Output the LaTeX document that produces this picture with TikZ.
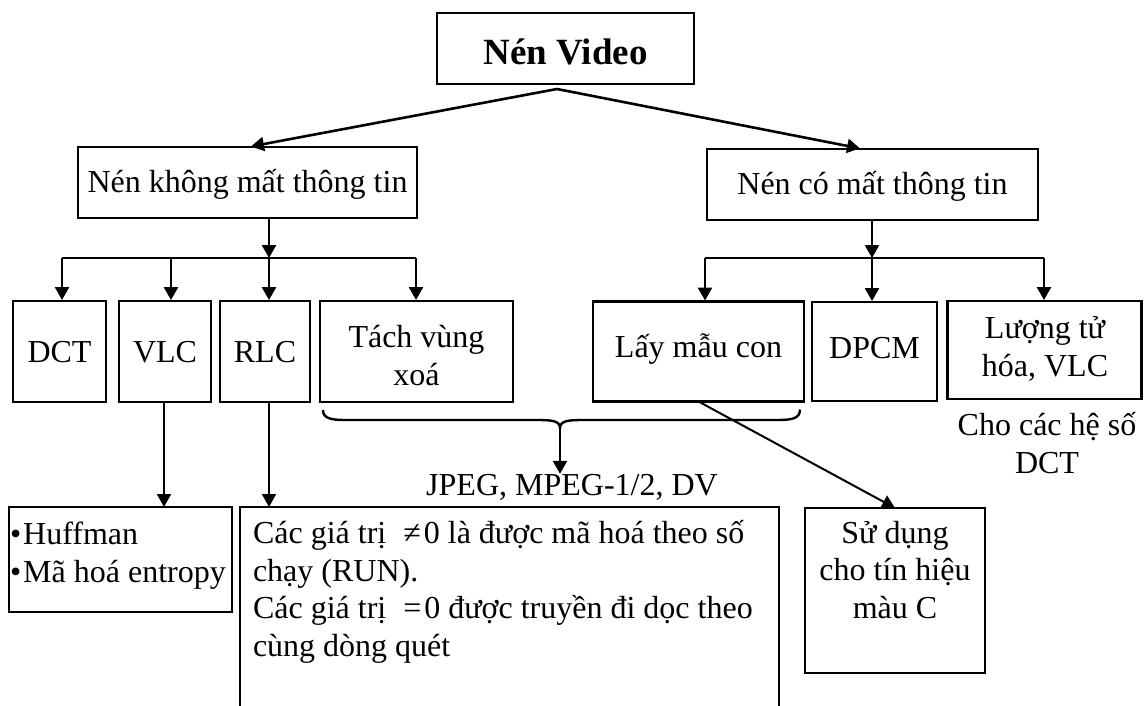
\documentclass[tikz,border=0pt]{standalone}
\usepackage{fontspec}
\setmainfont{Liberation Serif}
\usetikzlibrary{arrows.meta,calc}

\begin{document}
\begin{tikzpicture}[x=1pt,y=-1pt,
  every node/.style={inner sep=0pt, outer sep=0pt},
  txt/.style={font=\fontsize{32}{37.5}\selectfont},
  box/.style={draw, line width=2.6pt, txt},
  oneline/.style={text height=21pt, text depth=0pt},
  thinbox/.style={draw, line width=2pt},
  conn/.style={line width=2.6pt, -{Triangle[length=13pt,width=14pt]}},
  thinconn/.style={line width=2pt, -{Triangle[length=13pt,width=14pt]}},
  bus/.style={line width=2.6pt},
  bracepath/.style={line width=2.4pt},
]
\fill[white] (0,0) rectangle (1144,706);
\useasboundingbox (0,0) rectangle (1144,706);

% ---- root ----
\node[box, minimum width=257pt, minimum height=71pt,
      font=\fontsize{37}{40}\selectfont\bfseries, text height=33pt, text depth=0pt]
  (title) at (565.5,48.5) {Nén Video};

% ---- second level ----
\node[box, oneline, minimum width=339pt, minimum height=71pt]
  (lossless) at (247.5,182.5) {Nén không mất thông tin};
\node[box, oneline, minimum width=331pt, minimum height=71pt]
  (lossy) at (872.5,184.5) {Nén có mất thông tin};

% ---- lossless techniques ----
\node[box, oneline, minimum width=93pt, minimum height=101pt] (dct) at (59.5,351.5) {DCT};
\node[box, oneline, minimum width=92pt, minimum height=101pt] (vlc) at (165,351.5) {VLC};
\node[box, oneline, minimum width=90pt, minimum height=101pt] (rlc) at (265,351.5) {RLC};
\node[box, minimum width=193pt, minimum height=101pt] (tach) at (416.5,351.5) {};
\node[txt, align=center, anchor=base] (tachtext) at (416.5,385) {Tách vùng\\xoá};

% ---- lossy techniques ----
\node[box, text height=21pt, text depth=10pt, minimum width=211pt, minimum height=100pt]
  (laymau) at (698.5,351.5) {Lấy mẫu con};
\node[box, text height=21pt, text depth=8pt, minimum width=125pt, minimum height=99pt]
  (dpcm) at (874.5,351.5) {DPCM};
\node[box, minimum width=194pt, minimum height=98pt] (luong) at (1044.5,350) {};
\node[txt, align=center, anchor=base] (luongtext) at (1045,376) {Lượng tử\\hóa, VLC};
\node[txt, align=center, anchor=base] (cho) at (1047,473) {Cho các hệ số\\DCT};

% ---- bottom boxes ----
\node[thinbox, minimum width=223pt, minimum height=105pt] (huff) at (120.5,559.5) {};
\node[txt, align=left, anchor=base west] (hufftext) at (10,582)
  {•\hspace{2pt}Huffman\\•\hspace{2pt}Mã hoá entropy};

\node[minimum width=539pt, minimum height=199pt] (runbox) at (509.5,606.5) {};
\draw[line width=2pt] (runbox.south west) -- (runbox.north west)
  -- (runbox.north east) -- (runbox.south east);
\node[txt, align=left, anchor=base west] (runtext) at (253,656)
  {Các giá trị\hspace{17pt}≠\hspace{3pt}0 là được mã hoá theo số\\
   chạy (RUN).\\
   Các giá trị\hspace{17pt}=\hspace{3pt}0 được truyền đi dọc theo\\
   cùng dòng quét};

\node[thinbox, minimum width=180pt, minimum height=165pt] (sudung) at (895,590.5) {};
\node[txt, align=center, anchor=base] (sudungtext) at (895,618)
  {Sử dụng\\cho tín hiệu\\màu C};

\node[txt, anchor=base] (jpeg) at (572,495) {JPEG, MPEG-1/2, DV};

% ---- root to second level ----
\coordinate (fork) at ($(title.south)+(-8.5,5)$);
\draw[conn, shorten >=3pt] (fork) -- ($(lossless.north)+(0.5,0)$);
\draw[conn, shorten >=3pt] (fork) -- ($(lossy.north)+(-9.5,0)$);

% ---- lossless bus ----
\coordinate (lmid) at (269,258);
\coordinate (l1) at (62,258);
\coordinate (l2) at (171,258);
\coordinate (l4) at (416,258);
\draw[conn] (lmid |- lossless.south) -- (lmid);
\draw[bus] (l1) -- (l4);
\draw[conn, shorten >=1pt] (l1) -- (l1 |- dct.north);
\draw[conn, shorten >=1pt] (l2) -- (l2 |- vlc.north);
\draw[conn, shorten >=1pt] (lmid) -- (lmid |- rlc.north);
\draw[conn, shorten >=1pt] (l4) -- (l4 |- tach.north);

% ---- lossy bus ----
\coordinate (rmid) at (872,258);
\coordinate (r1) at (705,258);
\coordinate (r3) at (1044,258);
\draw[conn] (rmid |- lossy.south) -- (rmid);
\draw[bus] (r1) -- (r3);
\draw[conn, shorten >=1pt] (r1) -- (r1 |- laymau.north);
\draw[conn, shorten >=1pt] (rmid) -- (rmid |- dpcm.north);
\draw[conn, shorten >=1pt] (r3) -- (r3 |- luong.north);

% ---- down to the detail boxes ----
\coordinate (vdown) at (164,0);
\draw[thinconn] (vdown |- vlc.south) -- (vdown |- huff.north);
\draw[thinconn] (lmid |- rlc.south) -- (lmid |- runbox.north);

% ---- brace under Tách vùng xoá ... Lấy mẫu con ----
\coordinate (cusp) at (560,428);
\draw[bracepath] ($(tach.south west)+(3,8)$)
  .. controls (323,418) and (330,420) .. (345,420) -- (538,420)
  .. controls (552,420) and (560,421) .. (cusp)
  .. controls (560,421) and (568,420) .. (582,420) -- (778,420)
  .. controls (793,420) and (800,418) .. ($(laymau.south east)+(-4,8)$);
\draw[conn] (cusp) -- (cusp |- jpeg.north);

% ---- chroma subsampling use ----
\draw[thinconn] (laymau.south) -- (sudung.north);

\end{tikzpicture}
\end{document}
